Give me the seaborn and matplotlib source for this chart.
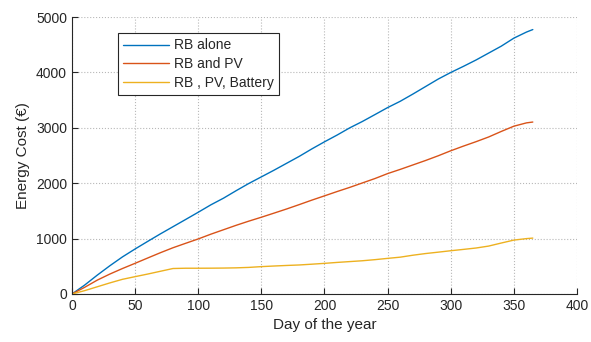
import numpy as np
import pandas as pd
import matplotlib
matplotlib.use("Agg")
import matplotlib.pyplot as plt
import seaborn as sns

days = [0, 10, 20, 30, 40, 50, 60, 70, 80, 90, 100, 110, 120, 130, 140, 150, 160, 170, 180,
        190, 200, 210, 220, 230, 240, 250, 260, 270, 280, 290, 300, 310, 320, 330, 340, 350, 360, 365]
rb_alone = [0, 160, 340, 510, 670, 813, 950, 1085, 1215, 1345, 1476, 1610, 1730, 1865, 1995, 2115,
            2235, 2360, 2485, 2620, 2748, 2870, 3000, 3115, 3240, 3366, 3480, 3610, 3745, 3880,
            4000, 4110, 4225, 4350, 4475, 4620, 4730, 4775]
rb_pv = [0, 120, 250, 360, 460, 554, 650, 745, 835, 915, 994, 1080, 1160, 1240, 1315, 1386, 1460,
         1535, 1614, 1695, 1772, 1850, 1925, 2005, 2085, 2174, 2250, 2330, 2410, 2495, 2586, 2670,
         2750, 2835, 2935, 3030, 3090, 3105]
rb_pv_batt = [0, 60, 130, 200, 265, 313, 360, 410, 460, 465, 465, 466, 468, 472, 480, 494, 505,
              515, 524, 538, 553, 570, 585, 600, 620, 643, 665, 700, 730, 755, 781, 805, 830, 865,
              920, 973, 1000, 1009]

labels = ["RB alone", "RB and PV", "RB , PV, Battery"]
colors = ["#0072BD", "#D95319", "#EDB120"]

sns.set_style("ticks")
plt.rcParams["font.family"] = ["Liberation Sans", "DejaVu Sans"]

fig = plt.figure(figsize=(5.91, 3.42), dpi=100)
ax = fig.add_axes([0.1218, 0.1404, 0.8545, 0.8096])

for series, label, color in zip([rb_alone, rb_pv, rb_pv_batt], labels, colors):
    df = pd.DataFrame({"day": days, "cost": series})
    sns.lineplot(data=df, x="day", y="cost", ax=ax, color=color, linewidth=1.0, label=label)

ax.set_xlim(0, 400)
ax.set_ylim(0, 5000)
ax.set_xticks(np.arange(0, 401, 50))
ax.set_yticks(np.arange(0, 5001, 1000))
ax.grid(True, linestyle=":", color="#b8b8b8", linewidth=0.8)
ax.tick_params(direction="in", length=4, labelsize=10, colors="#262626", width=0.8)
for side in ["top", "right"]:
    ax.spines[side].set_visible(False)
for side in ["left", "bottom"]:
    ax.spines[side].set_color("#262626")
    ax.spines[side].set_linewidth(0.8)

ax.set_xlabel("Day of the year", fontsize=11, color="#262626")
ax.set_ylabel("Energy Cost (€)", fontsize=11, color="#262626")

leg = ax.legend(loc="upper left", bbox_to_anchor=(0.091, 0.942), fontsize=10,
                fancybox=False, framealpha=1, edgecolor="#262626", handlelength=3.3,
                handletextpad=0.35, borderpad=0.38, labelspacing=0.34, borderaxespad=0)
leg.get_frame().set_linewidth(0.8)

fig.savefig("out.png", dpi=100)
